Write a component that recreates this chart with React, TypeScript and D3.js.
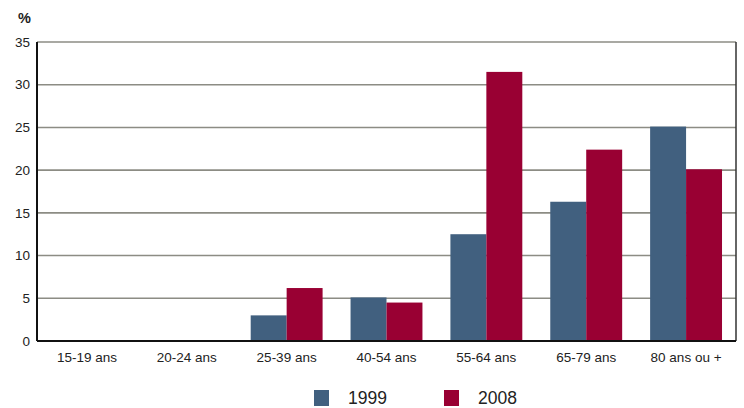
import React from "react";
import * as d3 from "d3";

const categories = ["15-19 ans", "20-24 ans", "25-39 ans", "40-54 ans", "55-64 ans", "65-79 ans", "80 ans ou +"];
const series1999 = [0, 0, 3.0, 5.1, 12.5, 16.3, 25.1];
const series2008 = [0, 0, 6.2, 4.5, 31.5, 22.4, 20.1];
const seriesNames = ["1999", "2008"];
const yTicks = [0, 5, 10, 15, 20, 25, 30, 35];

const W = 744, H = 408;
const M = { left: 37, right: 736, top: 42, bottom: 341 };
const colors = ["#41607f", "#990033"];

export default function App() {
  const x = d3.scaleBand<string>().domain(categories).range([M.left, M.right]).paddingInner(0).paddingOuter(0);
  const inner = d3.scaleBand<string>().domain(seriesNames).range([0, x.bandwidth() * 0.72]);
  const y = d3.scaleLinear().domain([0, 35]).range([M.bottom, M.top]);
  const offset = (x.bandwidth() - x.bandwidth() * 0.72) / 2;
  const data = [series1999, series2008];
  const font = "'Liberation Sans', Arial, sans-serif";

  return (
    <svg width={W} height={H} style={{ position: "absolute", left: 0, top: 0, background: "#fff" }} fontFamily={font}>
      {yTicks.map((t) => (
        <g key={t}>
          {t > 0 && <line x1={M.left} x2={M.right} y1={y(t)} y2={y(t)} stroke="#8c8c84" strokeWidth={1.6} />}
          <text x={30} y={y(t)} dy="0.35em" textAnchor="end" fontSize={13.5} fill="#222">{t}</text>
        </g>
      ))}
      <text x={18} y={23} fontSize={14.5} fontWeight="bold" fill="#222">%</text>
      {data.map((vals, si) =>
        vals.map((v, i) =>
          v > 0 ? (
            <rect
              key={`${si}-${i}`}
              x={(x(categories[i]) as number) + offset + (inner(seriesNames[si]) as number)}
              y={y(v)}
              width={inner.bandwidth()}
              height={y(0) - y(v)}
              fill={colors[si]}
            />
          ) : null
        )
      )}
      <line x1={M.left} x2={M.left} y1={M.top} y2={M.bottom} stroke="#111" strokeWidth={2} />
      <line x1={M.right} x2={M.right} y1={M.top} y2={M.bottom} stroke="#333" strokeWidth={1.5} />
      <line x1={M.left} x2={M.right} y1={M.bottom} y2={M.bottom} stroke="#111" strokeWidth={2} />
      {categories.map((c) => (
        <text key={c} x={(x(c) as number) + x.bandwidth() / 2} y={362} textAnchor="middle" fontSize={13.5} fill="#222">{c}</text>
      ))}
      {seriesNames.map((s, i) => {
        const lx = [314, 444][i];
        return (
          <g key={s}>
            <rect x={lx} y={390} width={15} height={16} fill={colors[i]} />
            <text x={lx + 34} y={404} fontSize={17.5} fill="#222">{s}</text>
          </g>
        );
      })}
    </svg>
  );
}
